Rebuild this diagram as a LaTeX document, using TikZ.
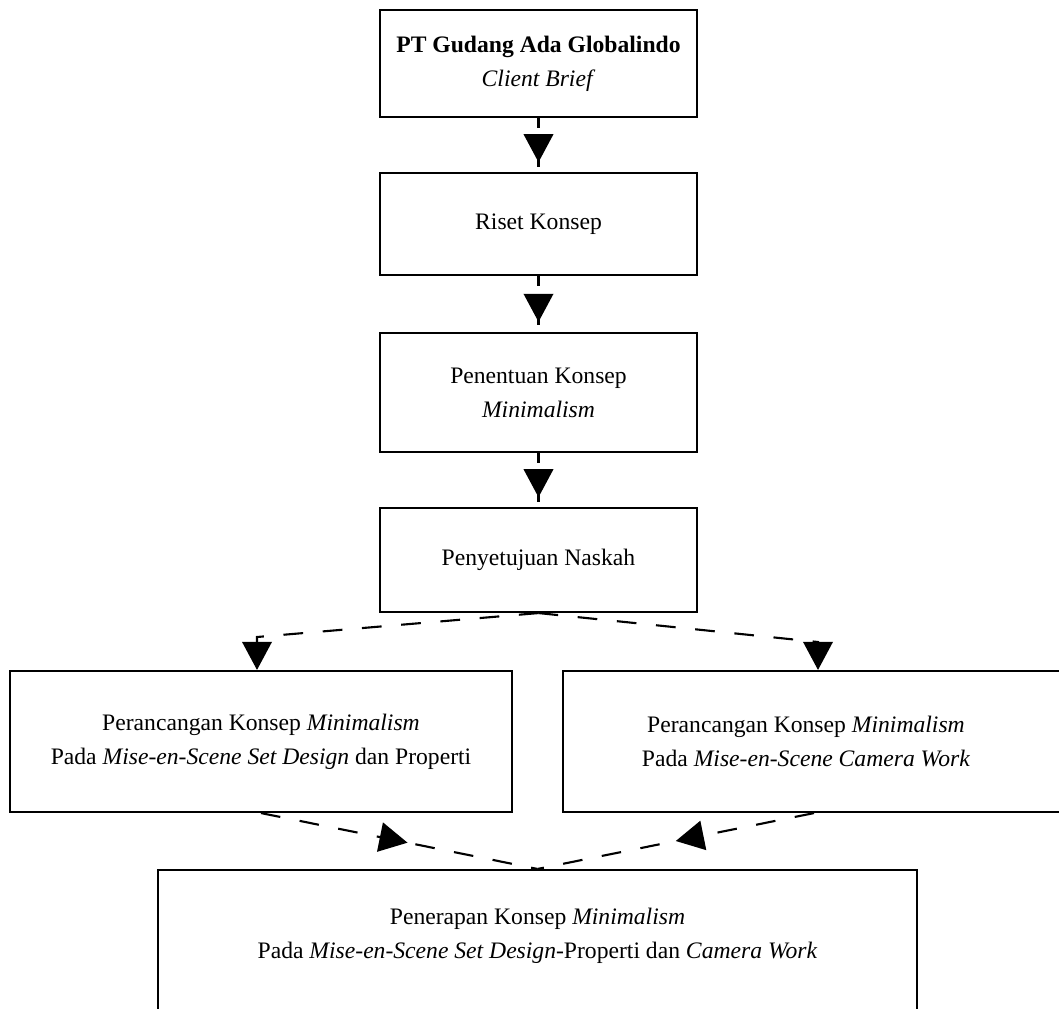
\documentclass[tikz,border=0pt]{standalone}
\usepackage{fontspec}
\setmainfont{Liberation Serif}
\usetikzlibrary{arrows.meta,decorations.markings}

\def\unitpx{0.025cm}
\tikzset{box/.style={draw, line width=1.5pt, align=center, inner sep=0pt,
        font=\fontsize{16.8}{24.2}\selectfont},
    link/.style={line width=1.5pt, dash pattern=on 14pt off 14pt},
    midtip/.style={link, postaction={decorate}, decoration={markings,
        mark=at position #1 with {\arrow{Triangle[width=21pt,length=20pt]}}}},
    endtip/.style={link, -{Triangle[width=21pt,length=20pt]}}}

\begin{document}
\begin{tikzpicture}[x=\unitpx, y=-\unitpx]
  \useasboundingbox (0,0) rectangle (1059,1008);
  \clip (0,0) rectangle (1059,1008);
  % top column
  \node[box, minimum width=317*\unitpx, minimum height=107*\unitpx] (brief) at (538.5,63.5)
    {\textbf{PT Gudang Ada Globalindo}\\ \textit{Client Brief}};
  \node[box, minimum width=317*\unitpx, minimum height=102*\unitpx] (riset) at (538.5,224)
    {Riset Konsep};
  \node[box, minimum width=317*\unitpx, minimum height=119*\unitpx] (tentu) at (538.5,392.5)
    {Penentuan Konsep\\ \textit{Minimalism}};
  \node[box, minimum width=317*\unitpx, minimum height=104*\unitpx] (setuju) at (538.5,560)
    {Penyetujuan Naskah};
  % two branches
  \node[box, minimum width=502*\unitpx, minimum height=141*\unitpx] (rancSet) at (261,741.5)
    {Perancangan Konsep \textit{Minimalism}\\ Pada \textit{Mise-en-Scene Set Design} dan Properti};
  \node[box, minimum width=502*\unitpx, minimum height=141*\unitpx] (rancCam) at (814,741.5)
    {\hspace*{-0.4cm}Perancangan Konsep \textit{Minimalism}\\ \hspace*{-0.4cm}Pada \textit{Mise-en-Scene Camera Work}};
  \node[box, minimum width=759*\unitpx, minimum height=160*\unitpx] (terap) at (537.5,950)
    {Penerapan Konsep \textit{Minimalism}\\ Pada \textit{Mise-en-Scene Set Design}-Properti dan \textit{Camera Work}\\ \mbox{}};
  \coordinate (splitL) at (257,637);
  \coordinate (splitR) at (818,642);

  \draw[midtip=0.82, dash phase=7pt] (brief.south) -- (riset.north);
  \draw[midtip=0.82, dash phase=7pt] (riset.south) -- (tentu.north);
  \draw[midtip=0.82, dash phase=7pt] (tentu.south) -- (setuju.north);
  \draw[endtip] (setuju.south) -- (splitL) -- (splitL |- rancSet.north);
  \draw[endtip] (setuju.south) -- (splitR) -- (splitR |- rancCam.north);
  \draw[midtip=0.53] (rancSet.south) -- (terap.north);
  \draw[midtip=0.5] (rancCam.south) -- (terap.north);
\end{tikzpicture}
\end{document}
